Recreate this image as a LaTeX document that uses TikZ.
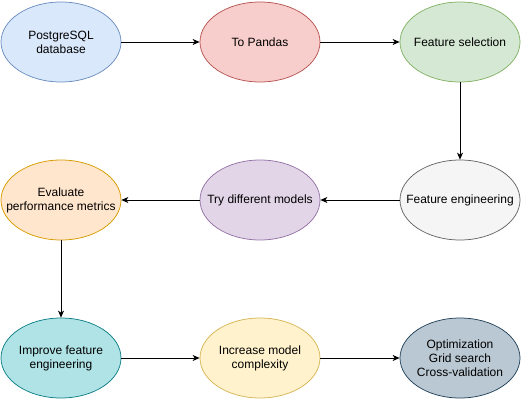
\documentclass[tikz,border=0pt]{standalone}
\usepackage{fontspec}
\setmainfont{Liberation Sans}
\usetikzlibrary{shapes.geometric,arrows.meta}
\definecolor{bluefill}{HTML}{DAE8FC}\definecolor{blueline}{HTML}{6C8EBF}
\definecolor{redfill}{HTML}{F8CECC}\definecolor{redline}{HTML}{B85450}
\definecolor{greenfill}{HTML}{D5E8D4}\definecolor{greenline}{HTML}{82B366}
\definecolor{greyfill}{HTML}{F5F5F5}\definecolor{greyline}{HTML}{666666}
\definecolor{purplefill}{HTML}{E1D5E7}\definecolor{purpleline}{HTML}{9673A6}
\definecolor{orangefill}{HTML}{FFE6CC}\definecolor{orangeline}{HTML}{D79B00}
\definecolor{cyanfill}{HTML}{B0E3E6}\definecolor{cyanline}{HTML}{0E8088}
\definecolor{yellowfill}{HTML}{FFF2CC}\definecolor{yellowline}{HTML}{D6B656}
\definecolor{slatefill}{HTML}{BAC8D3}\definecolor{slateline}{HTML}{23445D}
\tikzset{
  caption/.style={align=center, inner sep=0pt, font=\fontsize{12}{14}\selectfont},
  stage/.style 2 args={ellipse, draw=#1line, fill=#1fill, line width=0.75pt,
    minimum width=120pt, minimum height=80pt, inner sep=0pt,
    label={[caption]center:#2}},
  flow/.style={-{Stealth[length=7pt,width=6pt,inset=2pt]}, line width=0.8pt}
}
\begin{document}
\begin{tikzpicture}[x=1pt, y=-1pt]
  \useasboundingbox (0,0) rectangle (521,401);
  \node[stage={blue}{PostgreSQL\\database}]     (pg)   at (61,42)   {};
  \node[stage={red}{To Pandas}]                 (pd)   at (260,42)  {};
  \node[stage={green}{Feature selection}]       (sel)  at (460,42)  {};
  \node[stage={grey}{Feature engineering}]      (eng)  at (460,200) {};
  \node[stage={purple}{Try different models}]   (try)  at (260,200) {};
  \node[stage={orange}{Evaluate\\performance metrics}] (eval) at (61,200) {};
  \node[stage={cyan}{Improve feature\\engineering}]    (imp)  at (61,358)  {};
  \node[stage={yellow}{Increase model\\complexity}]    (cplx) at (260,358) {};
  \node[stage={slate}{Optimization\\Grid search\\Cross-validation}] (opt) at (460,358) {};
  \draw[flow] (pg) -- (pd);
  \draw[flow] (pd) -- (sel);
  \draw[flow] (sel) -- (eng);
  \draw[flow] (eng) -- (try);
  \draw[flow] (try) -- (eval);
  \draw[flow] (eval) -- (imp);
  \draw[flow] (imp) -- (cplx);
  \draw[flow] (cplx) -- (opt);
\end{tikzpicture}
\end{document}
